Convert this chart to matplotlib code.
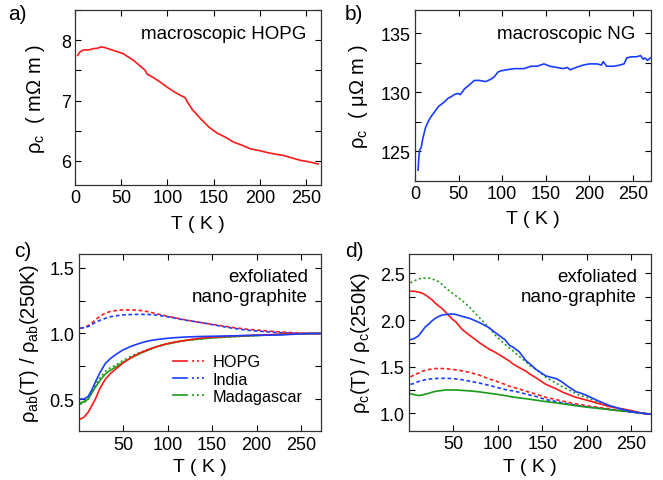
"""Resistivity vs temperature: macroscopic and exfoliated graphite."""

import matplotlib

matplotlib.use('Agg')

import matplotlib.pyplot as plt
from matplotlib.legend_handler import HandlerTuple
from matplotlib.lines import Line2D
from matplotlib.ticker import MultipleLocator

plt.rcParams['font.family'] = ['Liberation Sans', 'DejaVu Sans']
plt.rcParams['mathtext.fontset'] = 'custom'
plt.rcParams['mathtext.rm'] = 'Liberation Sans'
plt.rcParams['mathtext.it'] = 'Liberation Sans:italic'
plt.rcParams['font.size'] = 13

RED = '#ff1a1a'
BLUE = '#1a3cff'
GREEN = '#1a9a1a'

# a) macroscopic HOPG, rho_c in mOhm m
t_hopg = [3, 5, 8, 10, 15, 20, 25, 28, 32, 38, 46, 52, 58, 64, 70, 74, 76, 78,
          85, 92, 100, 108, 115, 119, 122, 127, 136, 145, 154, 162, 172, 181,
          190, 200, 208, 218, 226, 235, 244, 252, 258, 263]
rho_hopg = [7.75, 7.8, 7.83, 7.84, 7.84, 7.86, 7.87, 7.89, 7.88, 7.85, 7.81,
            7.78, 7.72, 7.66, 7.58, 7.53, 7.5, 7.44, 7.38, 7.31, 7.22, 7.14,
            7.08, 7.05, 6.97, 6.85, 6.7, 6.56, 6.46, 6.4, 6.31, 6.26, 6.2,
            6.17, 6.14, 6.11, 6.09, 6.05, 6.01, 5.99, 5.97, 5.95]

# b) macroscopic natural graphite, rho_c in uOhm m
t_ng = [3.4, 4.5, 5.3, 7, 9, 12, 15, 18, 22, 27, 34, 38, 41, 45, 49, 52, 57,
        62, 68, 74, 81, 87, 91, 95, 98, 105, 114, 120, 125, 133, 140, 148,
        155, 163, 170, 175, 178, 185, 193, 200, 209, 214, 216, 220, 228, 235,
        240, 243, 248, 254, 259, 262, 264, 267, 270]
rho_ng = [123.4, 124.6, 125.1, 125.3, 126.1, 127.0, 127.5, 127.9, 128.3,
          128.8, 129.2, 129.5, 129.6, 129.8, 129.9, 129.8, 130.3, 130.6,
          131.0, 131.0, 130.9, 131.1, 131.3, 131.7, 131.8, 131.9, 132.0,
          132.0, 132.0, 132.2, 132.2, 132.4, 132.2, 132.1, 132.0, 132.1,
          131.9, 132.1, 132.3, 132.4, 132.4, 132.3, 132.6, 132.2, 132.2,
          132.3, 132.4, 132.9, 133.0, 133.0, 133.1, 132.8, 132.9, 132.7,
          132.9]

# c) exfoliated nano-graphite, rho_ab(T) / rho_ab(250K)
t_c = [2, 6, 11, 15, 19, 24, 30, 36, 42, 50, 60, 70, 79, 88, 98, 108, 117,
       127, 136, 150, 173, 190, 211, 230, 249, 262, 271]
ab_hopg_solid = [0.347, 0.36, 0.40, 0.45, 0.50, 0.58, 0.65, 0.695, 0.73,
                 0.775, 0.82, 0.855, 0.88, 0.90, 0.92, 0.935, 0.944, 0.955,
                 0.964, 0.972, 0.98, 0.985, 0.99, 0.995, 1.0, 1.0, 1.0]
ab_india_solid = [0.5, 0.5, 0.52, 0.57, 0.63, 0.70, 0.77, 0.81, 0.84, 0.875,
                  0.905, 0.928, 0.944, 0.954, 0.962, 0.968, 0.972, 0.975,
                  0.977, 0.979, 0.982, 0.985, 0.987, 0.99, 0.997, 1.0, 1.0]
ab_mad_solid = [0.47, 0.48, 0.50, 0.545, 0.59, 0.64, 0.69, 0.72, 0.745,
                0.78, 0.817, 0.85, 0.875, 0.90, 0.918, 0.932, 0.944, 0.952,
                0.958, 0.967, 0.976, 0.982, 0.988, 0.994, 0.998, 1.0, 1.0]
ab_hopg_dash = [1.04, 1.045, 1.06, 1.08, 1.105, 1.13, 1.155, 1.168, 1.175,
                1.18, 1.18, 1.175, 1.165, 1.15, 1.135, 1.12, 1.108, 1.095,
                1.085, 1.07, 1.046, 1.032, 1.02, 1.01, 1.003, 1.0, 1.0]
ab_india_dash = [1.04, 1.045, 1.053, 1.068, 1.085, 1.1, 1.115, 1.128, 1.135,
                 1.142, 1.145, 1.146, 1.145, 1.14, 1.13, 1.118, 1.105, 1.095,
                 1.085, 1.068, 1.04, 1.025, 1.013, 1.005, 1.0, 1.0, 0.998]
ab_mad_dash = [0.46, 0.47, 0.50, 0.56, 0.61, 0.66, 0.71, 0.74, 0.76, 0.795,
               0.83, 0.858, 0.88, 0.90, 0.918, 0.932, 0.944, 0.952, 0.958,
               0.967, 0.976, 0.982, 0.988, 0.994, 0.998, 1.0, 1.0]

# d) exfoliated nano-graphite, rho_c(T) / rho_c(250K)
t_d = [2, 6, 11, 15, 19, 23, 26, 30, 34, 38, 42, 49, 53, 60, 68, 79, 90, 98,
       108, 113, 117, 124, 132, 136, 143, 154, 166, 173, 177, 188, 192, 200,
       211, 226, 230, 238, 249, 262, 271]
c_hopg_solid = [2.31, 2.31, 2.30, 2.29, 2.27, 2.24, 2.22, 2.18, 2.15, 2.12,
                2.08, 2.01, 1.98, 1.90, 1.84, 1.76, 1.69, 1.65, 1.59, 1.56,
                1.53, 1.49, 1.45, 1.42, 1.38, 1.31, 1.26, 1.225, 1.21, 1.17,
                1.16, 1.14, 1.11, 1.07, 1.064, 1.05, 1.03, 1.0, 0.99]
c_india_solid = [1.79, 1.80, 1.83, 1.88, 1.93, 1.96, 1.99, 2.02, 2.04, 2.055,
                 2.06, 2.065, 2.06, 2.04, 2.02, 1.975, 1.92, 1.86, 1.79,
                 1.73, 1.71, 1.66, 1.56, 1.53, 1.47, 1.40, 1.37, 1.33, 1.30,
                 1.23, 1.22, 1.19, 1.14, 1.08, 1.07, 1.046, 1.02, 1.0, 0.99]
c_mad_solid = [1.21, 1.20, 1.19, 1.195, 1.205, 1.215, 1.225, 1.235, 1.24,
               1.245, 1.25, 1.25, 1.25, 1.245, 1.24, 1.23, 1.215, 1.205,
               1.19, 1.18, 1.175, 1.165, 1.155, 1.15, 1.14, 1.125, 1.11, 1.1,
               1.095, 1.08, 1.075, 1.065, 1.054, 1.038, 1.034, 1.026, 1.018,
               1.0, 0.99]
c_hopg_dash = [1.39, 1.41, 1.43, 1.45, 1.46, 1.47, 1.475, 1.48, 1.48, 1.48,
               1.478, 1.47, 1.465, 1.455, 1.44, 1.41, 1.37, 1.345, 1.31, 1.29,
               1.28, 1.26, 1.235, 1.225, 1.205, 1.17, 1.145, 1.13, 1.12, 1.1,
               1.095, 1.08, 1.065, 1.046, 1.04, 1.03, 1.015, 1.0, 0.99]
c_india_dash = [1.31, 1.32, 1.34, 1.35, 1.36, 1.365, 1.37, 1.372, 1.374,
                1.375, 1.375, 1.372, 1.368, 1.36, 1.345, 1.325, 1.3, 1.28,
                1.255, 1.245, 1.24, 1.225, 1.205, 1.195, 1.18, 1.146, 1.125,
                1.11, 1.105, 1.085, 1.08, 1.07, 1.056, 1.04, 1.035, 1.025,
                1.012, 1.0, 0.99]
c_mad_dash = [2.40, 2.42, 2.44, 2.45, 2.45, 2.45, 2.44, 2.43, 2.41, 2.38,
              2.34, 2.29, 2.26, 2.21, 2.14, 2.03, 1.92, 1.83, 1.74, 1.70,
              1.67, 1.61, 1.55, 1.51, 1.47, 1.386, 1.32, 1.28, 1.265, 1.21,
              1.19, 1.17, 1.12, 1.075, 1.064, 1.048, 1.03, 1.0, 0.99]

legend_labels = ['HOPG', 'India', 'Madagascar']

XLABEL = 'T ( K )'


def style_axes(ax):
    ax.tick_params(direction='in', top=True, right=True, length=4.5,
                   width=0.8, labelsize=13, pad=3)
    ax.tick_params(which='minor', direction='in', top=False, right=True,
                   left=True, bottom=False, length=4.5, width=0.8)
    for spine in ax.spines.values():
        spine.set_linewidth(0.9)
        spine.set_color('#333333')


fig = plt.figure(figsize=(6.63, 4.81), dpi=100)

ax_a = fig.add_axes([0.113, 0.613, 0.371, 0.364])
ax_b = fig.add_axes([0.626, 0.622, 0.356, 0.356])
ax_c = fig.add_axes([0.119, 0.101, 0.365, 0.369])
ax_d = fig.add_axes([0.617, 0.102, 0.365, 0.368])

# a)
ax_a.plot(t_hopg, rho_hopg, color=RED, lw=1.2)
ax_a.set_xlim(0, 266)
ax_a.set_ylim(5.6, 8.5)
ax_a.xaxis.set_major_locator(MultipleLocator(50))
ax_a.yaxis.set_major_locator(MultipleLocator(1))
ax_a.yaxis.set_minor_locator(MultipleLocator(0.5))
ax_a.set_xlabel(XLABEL, fontsize=14, labelpad=6)
ax_a.set_ylabel(r'ρ$_{\rm c}$  ( mΩ m )', fontsize=14.5, labelpad=10)
ax_a.text(0.94, 0.865, 'macroscopic HOPG', transform=ax_a.transAxes,
          ha='right', va='center', fontsize=13.5)

# b)
ax_b.plot(t_ng, rho_ng, color=BLUE, lw=1.2)
ax_b.set_xlim(0, 271)
ax_b.set_ylim(122.5, 137)
ax_b.xaxis.set_major_locator(MultipleLocator(50))
ax_b.yaxis.set_major_locator(MultipleLocator(5))
ax_b.yaxis.set_minor_locator(MultipleLocator(2.5))
ax_b.set_xlabel(XLABEL, fontsize=14, labelpad=6)
ax_b.set_ylabel(r'ρ$_{\rm c}$  ( μΩ m )', fontsize=14.5, labelpad=8)
ax_b.text(0.935, 0.858, 'macroscopic NG', transform=ax_b.transAxes,
          ha='right', va='center', fontsize=13.5)

# c)
dash = (0, (2.2, 1.6))
dot = (0, (1.2, 1.6))
ax_c.plot(t_c, ab_hopg_dash, color=RED, lw=1.2, ls=dash)
ax_c.plot(t_c, ab_india_dash, color=BLUE, lw=1.2, ls=dash)
ax_c.plot(t_c, ab_mad_dash, color=GREEN, lw=1.2, ls=dot)
ax_c.plot(t_c, ab_mad_solid, color=GREEN, lw=1.2)
ax_c.plot(t_c, ab_hopg_solid, color=RED, lw=1.2)
ax_c.plot(t_c, ab_india_solid, color=BLUE, lw=1.2)
ax_c.set_xlim(0.5, 272)
ax_c.set_ylim(0.253, 1.607)
ax_c.set_xticks([50, 100, 150, 200, 250])
ax_c.yaxis.set_major_locator(MultipleLocator(0.5))
ax_c.yaxis.set_minor_locator(MultipleLocator(0.25))
ax_c.set_xlabel(XLABEL, fontsize=14, labelpad=4)
ax_c.set_ylabel(r'ρ$_{\rm ab}$(T) / ρ$_{\rm ab}$(250K)', fontsize=14.5,
                labelpad=6)
ax_c.text(0.946, 0.817, 'exfoliated\nnano-graphite', transform=ax_c.transAxes,
          ha='right', va='center', fontsize=13.5, linespacing=1.25)

handles = []
for col in (RED, BLUE, GREEN):
    handles.append((Line2D([], [], color=col, lw=1.2),
                    Line2D([], [], color=col, lw=1.2, ls=(0, (1.2, 1.8)))))
ax_c.legend(handles, legend_labels,
            handler_map={tuple: HandlerTuple(ndivide=None, pad=0.3)},
            loc='upper left', bbox_to_anchor=(0.388, 0.435), frameon=False,
            borderpad=0, borderaxespad=0, handlelength=2.05,
            handletextpad=0.4, labelspacing=0.15, fontsize=11.7)

# d)
ax_d.plot(t_d, c_mad_dash, color=GREEN, lw=1.2, ls=dot)
ax_d.plot(t_d, c_hopg_dash, color=RED, lw=1.2, ls=dash)
ax_d.plot(t_d, c_india_dash, color=BLUE, lw=1.2, ls=dash)
ax_d.plot(t_d, c_mad_solid, color=GREEN, lw=1.2)
ax_d.plot(t_d, c_hopg_solid, color=RED, lw=1.2)
ax_d.plot(t_d, c_india_solid, color=BLUE, lw=1.2)
ax_d.set_xlim(0.5, 272)
ax_d.set_ylim(0.81, 2.71)
ax_d.set_xticks([50, 100, 150, 200, 250])
ax_d.yaxis.set_major_locator(MultipleLocator(0.5))
ax_d.yaxis.set_minor_locator(MultipleLocator(0.25))
ax_d.set_xlabel(XLABEL, fontsize=14, labelpad=4)
ax_d.set_ylabel(r'ρ$_{\rm c}$(T) / ρ$_{\rm c}$(250K)', fontsize=14.5,
                labelpad=6)
ax_d.text(0.942, 0.817, 'exfoliated\nnano-graphite', transform=ax_d.transAxes,
          ha='right', va='center', fontsize=13.5, linespacing=1.25)

for ax in (ax_a, ax_b, ax_c, ax_d):
    style_axes(ax)

for label, x, y in (('a)', 0.012, 0.99), ('b)', 0.52, 0.99),
                    ('c)', 0.022, 0.497), ('d)', 0.52, 0.497)):
    fig.text(x, y, label, ha='left', va='top', fontsize=15)

fig.savefig('out.png', dpi=100)
